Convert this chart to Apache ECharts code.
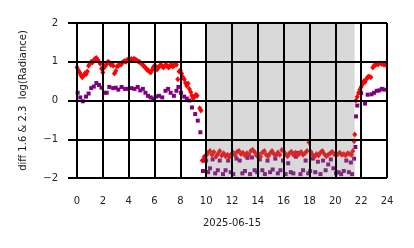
<!DOCTYPE html>
<html>
<head>
<meta charset="utf-8">
<script src="https://cdn.jsdelivr.net/npm/echarts@6/dist/echarts.min.js"></script>
<style>html,body{margin:0;padding:0;background:#fff;}#c{width:414px;height:248px;}</style>
</head>
<body>
<div id="c"></div>
<script>
// x tick labels (hours) and y ticks
const xTicks = [0, 2, 4, 6, 8, 10, 12, 14, 16, 18, 20, 22, 24];
const yTicks = [-2, -1, 0, 1, 2];
const xLabel = '2025-06-15';
const yLabel = 'diff 1.6 & 2.3  log(Radiance)';
// shaded interval (hours)
const shadeStart = 10.0;
const shadeEnd = 21.5;

// red series: [hour, value]
const redPoints = [
  [0.0,0.85],[0.1,0.78],[0.2,0.72],[0.3,0.65],[0.4,0.6],[0.5,0.64],[0.6,0.7],[0.7,0.68],[0.8,0.75],[0.9,0.9],
  [1.0,0.95],[1.1,1.0],[1.2,0.98],[1.3,1.04],[1.4,1.08],[1.5,1.1],[1.6,1.05],[1.7,1.0],[1.8,0.95],[1.9,0.82],
  [2.0,0.72],[2.1,0.85],[2.2,0.9],[2.3,0.95],[2.4,1.0],[2.5,0.98],[2.6,0.92],[2.7,0.95],[2.8,0.9],[2.9,0.7],
  [3.0,0.76],[3.1,0.88],[3.2,0.9],[3.3,0.95],[3.4,0.92],[3.5,0.98],[3.6,1.0],[3.7,1.02],[3.8,1.0],[3.9,1.05],
  [4.0,1.03],[4.1,1.05],[4.2,1.07],[4.3,1.05],[4.4,1.08],[4.5,1.06],[4.6,1.04],[4.7,1.02],[4.8,1.0],[4.9,0.98],
  [5.0,0.95],[5.1,0.92],[5.2,0.88],[5.3,0.85],[5.4,0.8],[5.5,0.78],[5.6,0.75],[5.7,0.72],[5.8,0.78],[5.9,0.85],
  [6.0,0.9],[6.1,0.88],[6.2,0.8],[6.3,0.85],[6.4,0.9],[6.5,0.92],[6.6,0.88],[6.7,0.85],[6.8,0.9],[6.9,0.92],
  [7.0,0.88],[7.1,0.85],[7.2,0.9],[7.3,0.92],[7.4,0.88],[7.5,0.9],[7.6,0.95],[7.7,0.92],[7.8,0.55],[7.9,0.75],
  [8.0,0.78],[8.1,0.7],[8.2,0.6],[8.3,0.55],[8.4,0.45],[8.5,0.38],[8.6,0.44],[8.7,0.3],[8.8,0.22],[8.9,0.12],
  [9.0,0.06],[9.1,0.1],[9.2,0.15],[9.3,0.12],[9.5,-0.2],[9.6,-0.26],[9.7,-1.55],[9.85,-1.45],
  [10.0,-1.42],[10.15,-1.35],[10.3,-1.3],[10.45,-1.4],[10.6,-1.33],[10.75,-1.45],[10.9,-1.38],[11.05,-1.3],[11.2,-1.42],[11.35,-1.36],
  [11.5,-1.44],[11.65,-1.4],[11.8,-1.46],[11.95,-1.38],[12.1,-1.35],[12.25,-1.42],[12.4,-1.32],[12.55,-1.3],[12.7,-1.38],[12.85,-1.35],
  [13.0,-1.42],[13.15,-1.36],[13.3,-1.4],[13.45,-1.3],[13.6,-1.27],[13.75,-1.33],[13.9,-1.42],[14.05,-1.38],[14.2,-1.45],[14.35,-1.34],
  [14.5,-1.3],[14.65,-1.4],[14.8,-1.44],[14.95,-1.36],[15.1,-1.3],[15.25,-1.38],[15.4,-1.42],[15.55,-1.34],[15.7,-1.4],[15.85,-1.28],
  [16.0,-1.3],[16.15,-1.38],[16.3,-1.44],[16.45,-1.36],[16.6,-1.32],[16.75,-1.4],[16.9,-1.35],[17.05,-1.42],[17.2,-1.38],[17.35,-1.33],
  [17.5,-1.4],[17.65,-1.36],[17.8,-1.3],[17.95,-1.08],[18.1,-1.32],[18.25,-1.4],[18.4,-1.45],[18.55,-1.38],[18.7,-1.42],[18.85,-1.34],
  [19.0,-1.3],[19.15,-1.38],[19.3,-1.44],[19.45,-1.4],[19.6,-1.36],[19.75,-1.32],[19.9,-1.38],[20.05,-1.42],[20.2,-1.38],[20.35,-1.35],
  [20.5,-1.4],[20.65,-1.38],[20.8,-1.42],[20.95,-1.36],[21.1,-1.38],[21.25,-1.4],[21.35,-1.3],[21.45,-1.05],[21.5,-0.88],
  [21.6,0.0],[21.7,0.1],[21.8,0.2],[21.9,0.28],[22.0,0.35],[22.1,0.42],[22.2,0.5],[22.3,0.48],[22.4,0.55],[22.5,0.6],
  [22.6,0.62],[22.75,0.6],[22.9,0.85],[23.0,0.9],[23.1,0.92],[23.2,0.95],[23.3,0.93],[23.45,0.96],[23.6,0.94],[23.75,0.93],[23.85,0.92]
];

// purple series: [hour, value]
const purplePoints = [
  [0.05,0.2],[0.25,0.08],[0.45,-0.02],[0.7,0.1],[0.9,0.18],[1.1,0.32],[1.3,0.36],[1.5,0.45],[1.7,0.4],[1.9,0.33],
  [2.1,0.2],[2.3,0.2],[2.5,0.35],[2.8,0.32],[3.0,0.33],[3.2,0.28],[3.45,0.35],[3.7,0.3],[3.95,0.3],[4.2,0.32],
  [4.45,0.3],[4.7,0.35],[4.9,0.26],[5.1,0.3],[5.3,0.2],[5.5,0.12],[5.7,0.08],[5.9,0.05],[6.1,0.1],[6.35,0.12],
  [6.6,0.08],[6.85,0.25],[7.05,0.3],[7.25,0.2],[7.5,0.12],[7.7,0.25],[7.85,0.35],[8.05,0.2],[8.3,0.1],[8.5,0.05],
  [8.7,0.0],[8.9,-0.18],[9.15,-0.35],[9.35,-0.52],[9.55,-0.82],[9.75,-1.82],[9.85,-1.55],
  [10.0,-1.55],[10.15,-1.85],[10.3,-1.75],[10.5,-1.52],[10.7,-1.88],[10.9,-1.8],[11.05,-1.55],[11.3,-1.9],[11.5,-1.8],[11.7,-1.55],
  [11.9,-1.85],[12.1,-1.9],[12.35,-1.5],[12.6,-1.55],[12.8,-1.88],[13.0,-1.82],[13.2,-1.48],[13.4,-1.9],[13.55,-1.47],[13.75,-1.8],
  [13.95,-1.85],[14.15,-1.52],[14.35,-1.8],[14.55,-1.9],[14.75,-1.55],[14.95,-1.85],[15.15,-1.78],[15.35,-1.5],[15.55,-1.88],[15.75,-1.8],
  [15.95,-1.55],[16.15,-1.9],[16.35,-1.62],[16.55,-1.85],[16.75,-1.88],[16.95,-1.45],[17.1,-1.35],[17.3,-1.9],[17.5,-1.8],[17.7,-1.55],
  [17.9,-1.88],[18.05,-1.82],[18.25,-1.5],[18.45,-1.85],[18.65,-1.58],[18.85,-1.9],[19.05,-1.55],[19.25,-1.8],[19.45,-1.65],[19.65,-1.52],
  [19.85,-1.75],[20.05,-1.88],[20.25,-1.85],[20.45,-1.9],[20.65,-1.82],[20.85,-1.55],[21.05,-1.85],[21.2,-1.6],[21.3,-1.9],[21.45,-1.5],
  [21.55,-1.2],[21.6,-0.41],[21.7,-0.13],[22.0,0.19],[22.3,-0.08],[22.5,0.15],[22.8,0.16],[23.0,0.2],[23.2,0.25],[23.4,0.26],[23.6,0.3],[23.8,0.28]
];

const chart = echarts.init(document.getElementById('c'), null, {renderer: 'canvas'});
const font = 'DejaVu Sans';
const axisCommon = {
  z: 5,
  axisLine: {show: true, lineStyle: {color: '#000', width: 2}},
  axisTick: {show: true, inside: false, length: 9, lineStyle: {color: '#000', width: 2}},
  splitLine: {show: true, lineStyle: {color: '#000', width: 2}},
  nameTextStyle: {fontFamily: font, fontSize: 10, color: '#222'}
};
chart.setOption({
  animation: false,
  backgroundColor: '#fff',
  grid: {left: 77, right: 27, top: 23, bottom: 70, containLabel: false},
  xAxis: Object.assign({}, axisCommon, {
    type: 'value', min: xTicks[0], max: xTicks[xTicks.length - 1], interval: 2,
    name: xLabel, nameLocation: 'middle', nameGap: 40,
    axisLabel: {fontFamily: font, fontSize: 10, color: '#222', margin: 18}
  }),
  yAxis: Object.assign({}, axisCommon, {
    type: 'value', min: yTicks[0], max: yTicks[yTicks.length - 1], interval: 1,
    name: yLabel, nameLocation: 'middle', nameGap: 49,
    axisLabel: {fontFamily: font, fontSize: 10, color: '#222', margin: 19,
      formatter: v => (v < 0 ? '\u2212' + Math.abs(v) : String(v))}
  }),
  series: [
    {type: 'scatter', z: 2, data: purplePoints, symbol: 'rect', symbolSize: 4,
     itemStyle: {color: '#800080', opacity: 1}},
    {type: 'scatter', z: 2, data: redPoints, symbol: 'diamond', symbolSize: [5, 6],
     itemStyle: {color: '#ff0000', opacity: 1}},
    {type: 'scatter', z: 3, data: [], silent: true,
     markArea: {silent: true, z: 3, itemStyle: {color: 'rgba(128,128,128,0.3)'},
       data: [[{xAxis: shadeStart}, {xAxis: shadeEnd}]]}}
  ]
});
</script>
</body>
</html>
